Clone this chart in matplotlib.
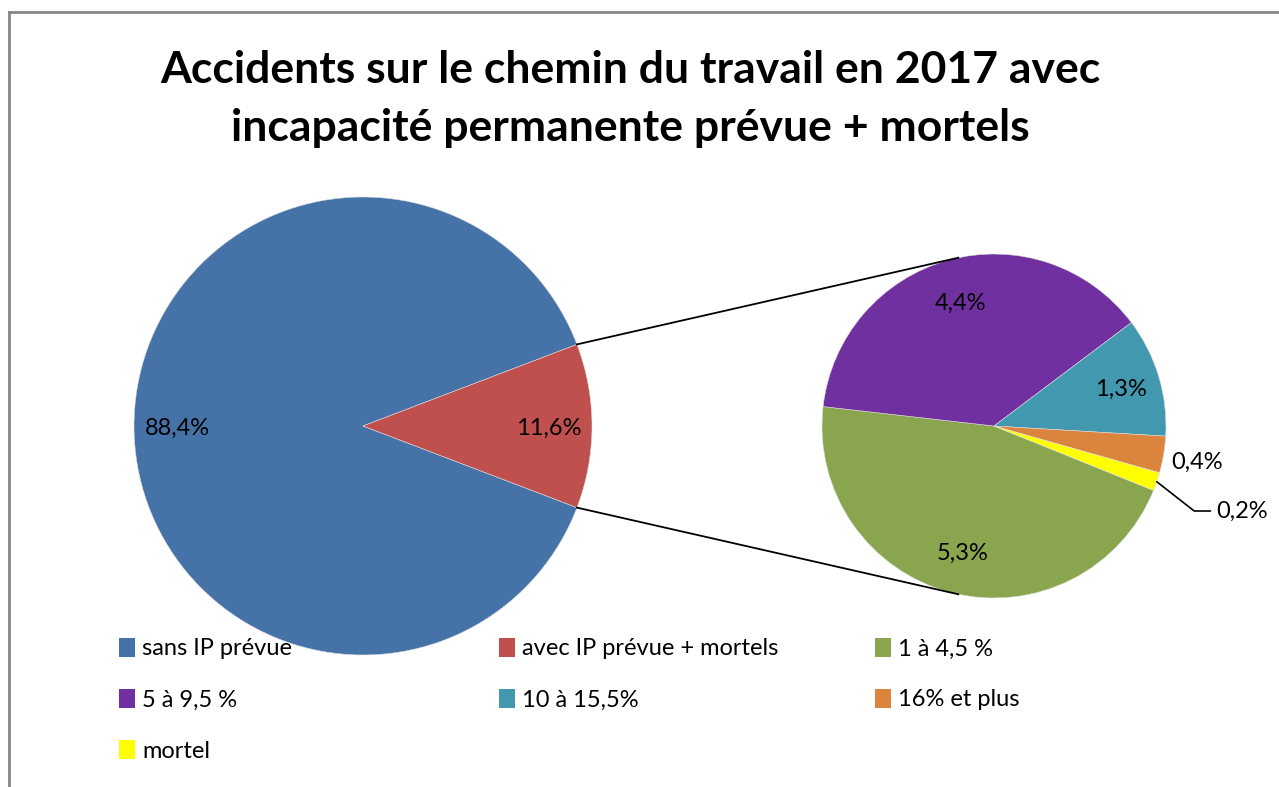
import numpy as np
import matplotlib
matplotlib.use("Agg")
import matplotlib.pyplot as plt
from matplotlib.patches import Patch
from matplotlib.lines import Line2D
from matplotlib.legend import Legend

plt.rcParams['font.family'] = ['Lato', 'DejaVu Sans']

# donnees
main_labels = ['sans IP prévue', 'avec IP prévue + mortels']
main_values = [88.4, 11.6]
main_colors = ['#4572A7', '#C0504D']

sub_labels = ['1 à 4,5 %', '5 à 9,5 %', '10 à 15,5%', '16% et plus', 'mortel']
sub_values = [5.3, 4.4, 1.3, 0.4, 0.2]
sub_colors = ['#89A54E', '#7030A0', '#4198AF', '#DB843D', '#FFFF00']

title = "Accidents sur le chemin du travail en 2017 avec\nincapacité permanente prévue + mortels"


def fmt(v):
    return ("%.1f" % v).replace('.', ',') + '%'


W, H = 1279, 787
fig = plt.figure(figsize=(W / 100, H / 100), dpi=100)
ax = fig.add_axes([0, 0, 1, 1])
ax.set_xlim(0, W)
ax.set_ylim(0, H)
ax.set_aspect('equal')
ax.axis('off')

# cadre gris (haut + gauche)
fig.add_artist(Line2D([9 / W, 9 / W], [0, 1 - 12 / H], color='#878787', lw=2, transform=fig.transFigure))
fig.add_artist(Line2D([9 / W, 1], [1 - 12 / H, 1 - 12 / H], color='#878787', lw=2, transform=fig.transFigure))

# camembert principal
c1 = (363, H - 426)
r1 = 229
red_angle = main_values[1] / sum(main_values) * 360
start1 = red_angle / 2
w1, t1 = ax.pie(main_values, colors=main_colors, center=c1, radius=r1,
                startangle=start1, counterclock=True,
                wedgeprops=dict(linewidth=0.4, edgecolor='#dddddd'))
for w, v in zip(w1, main_values):
    mid = np.deg2rad((w.theta1 + w.theta2) / 2)
    ax.text(c1[0] + 0.81 * r1 * np.cos(mid), c1[1] + 0.81 * r1 * np.sin(mid) - 2, fmt(v),
            ha='center', va='center', fontsize=17)

# camembert secondaire
c2 = (994, H - 426)
r2 = 172
w2, t2 = ax.pie(sub_values, colors=sub_colors, center=c2, radius=r2,
                startangle=338, counterclock=False,
                wedgeprops=dict(linewidth=0.4, edgecolor='#dddddd'))
ax.set_xlim(0, W)
ax.set_ylim(0, H)

dist = [0.75, 0.75, 0.77, 1.2, None]
for i, (w, v) in enumerate(zip(w2, sub_values)):
    mid = np.deg2rad((w.theta1 + w.theta2) / 2)
    if dist[i] is None:
        # etiquette avec ligne de rappel
        p0 = (c2[0] + r2 * np.cos(mid), c2[1] + r2 * np.sin(mid))
        ax.annotate(fmt(v), xy=p0, xytext=(1216, H - 511), ha='left', va='center', fontsize=17,
                    arrowprops=dict(arrowstyle='-', color='black', lw=1.2, shrinkA=2, shrinkB=0,
                                    connectionstyle='angle,angleA=0,angleB=142'))
        continue
    ax.text(c2[0] + dist[i] * r2 * np.cos(mid), c2[1] + dist[i] * r2 * np.sin(mid) - 2, fmt(v),
            ha='center', va='center', fontsize=17)

# lignes de liaison
for s in (1, -1):
    a1 = np.deg2rad(s * red_angle / 2)
    a2 = np.deg2rad(s * 102)
    ax.plot([c1[0] + r1 * np.cos(a1), c2[0] + r2 * np.cos(a2)],
            [c1[1] + r1 * np.sin(a1), c2[1] + r2 * np.sin(a2)], color='black', lw=1.3)

fig.text(630 / W, 1 - 50 / H, title, ha='center', va='top', fontsize=32, fontweight='bold',
         linespacing=1.55)

# legende sur trois colonnes
handles = [Patch(facecolor=c) for c in main_colors + sub_colors]
labels = main_labels + sub_labels
cols = [[0, 3, 6], [1, 4], [2, 5]]
col_x = [107, 487, 863]
for xs, idx in zip(col_x, cols):
    leg = Legend(ax, [handles[i] for i in idx], [labels[i] for i in idx],
                 loc='upper left', bbox_to_anchor=(xs / W, 1 - 626 / H),
                 bbox_transform=fig.transFigure,
                 frameon=False, fontsize=17, handlelength=0.7, handleheight=0.85,
                 handletextpad=0.3, labelspacing=1.25, borderpad=0)
    ax.add_artist(leg)

fig.savefig('out.png', dpi=100, facecolor='white')
